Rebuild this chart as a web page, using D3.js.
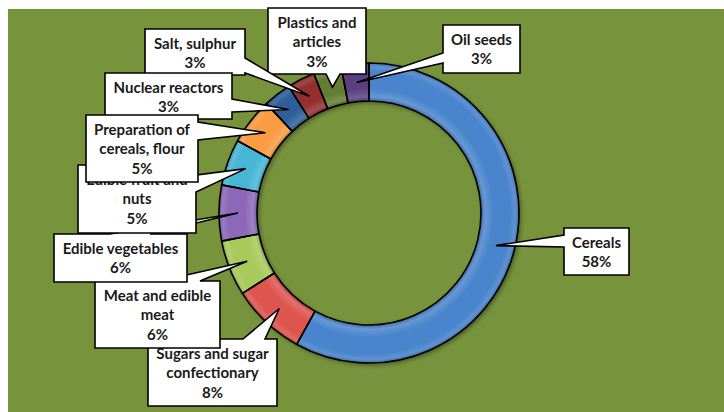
<!DOCTYPE html>
<html>
<head>
<meta charset="utf-8">
<script src="https://cdn.jsdelivr.net/npm/d3@7"></script>
<style>
  body { margin: 0; background: #fff; }
  text { font-family: Lato, "Open Sans", sans-serif; font-weight: bold; fill: #1a1a1a; }
</style>
</head>
<body>
<div id="chart"></div>
<script>
const width = 724, height = 412;

const categories = ["Cereals", "Sugars and sugar confectionary", "Meat and edible meat", "Edible vegetables",
  "Edible fruit and nuts", "Preparation of cereals, flour", "Nuclear reactors", "Salt, sulphur",
  "Plastics and articles", "Oil seeds"];
const shares = [58, 8, 6, 6, 5, 5, 3, 3, 3, 3];
const colors = ["#4a84cc", "#de5450", "#a8ca5c", "#8c69b8", "#47b6d6", "#f99b40",
  "#2f5f9a", "#952d2d", "#627e30", "#5a407f"];

// callout boxes: position, size, which side the pointer leaves from, words on first line
const boxes = [
  {x: 564, y: 228, w: 65, h: 47, side: "left", a: 7, b: 19, wrap: 9},
  {x: 148, y: 339, w: 129, h: 67, side: "top", a: 95, b: 117, wrap: 3},
  {x: 95, y: 281, w: 125, h: 67, side: "top", a: 65, b: 105, wrap: 3},
  {x: 54, y: 234, w: 133, h: 48, side: "top", a: 56, b: 96, wrap: 9},
  {x: 78, y: 165, w: 118, h: 68, side: "right", a: 10, b: 27, wrap: 3},
  {x: 86, y: 115, w: 112, h: 67, side: "right", a: 7, b: 25, wrap: 2},
  {x: 105, y: 73, w: 127, h: 46, side: "right", a: 26, b: 39, wrap: 9},
  {x: 145, y: 29, w: 100, h: 46, side: "right", a: 29, b: 44, wrap: 9},
  {x: 268, y: 8, w: 98, h: 66, side: "bottom", a: 58, b: 72, wrap: 2},
  {x: 443, y: 25, w: 77, h: 48, side: "left", a: 28, b: 38, wrap: 9}
];
const drawOrder = [8, 9, 0, 7, 6, 1, 2, 3, 4, 5];

const cx = 369, cy = 213, rInner = 112, rOuter = 150;

const svg = d3.select("#chart")
  .append("svg")
  .attr("width", width)
  .attr("height", height);

const defs = svg.append("defs");
// bevel shading across the ring, in the ring group's own coordinates
const bevel = defs.append("radialGradient")
  .attr("id", "bevel")
  .attr("gradientUnits", "userSpaceOnUse")
  .attr("cx", 0).attr("cy", 0).attr("r", rOuter);
[[rInner / rOuter, "#000", 0.22], [0.775, "#fff", 0.16], [0.83, "#fff", 0], [0.94, "#fff", 0],
 [0.975, "#fff", 0.12], [1, "#000", 0.2]].forEach(s => {
  bevel.append("stop").attr("offset", s[0]).attr("stop-color", s[1]).attr("stop-opacity", s[2]);
});
const shadow = defs.append("filter").attr("id", "shadow")
  .attr("x", "-20%").attr("y", "-20%").attr("width", "140%").attr("height", "140%");
shadow.append("feDropShadow").attr("dx", 2).attr("dy", 2).attr("stdDeviation", 2)
  .attr("flood-color", "#000").attr("flood-opacity", 0.4);

svg.append("rect")
  .attr("x", 8).attr("y", 9)
  .attr("width", 716).attr("height", 403)
  .attr("fill", "#77933c");

const pie = d3.pie().sort(null).value(d => d)(shares);
const arc = d3.arc().innerRadius(rInner).outerRadius(rOuter);

const ring = svg.append("g").attr("transform", `translate(${cx},${cy})`);

ring.append("g").attr("filter", "url(#shadow)")
  .selectAll("path")
  .data(pie)
  .join("path")
  .attr("d", arc)
  .attr("fill", (d, i) => colors[i]);

ring.append("g")
  .selectAll("path")
  .data(pie)
  .join("path")
  .attr("d", arc)
  .attr("fill", "url(#bevel)")
  .attr("stroke", "#000")
  .attr("stroke-width", 1.6)
  .attr("stroke-linejoin", "round");

function calloutPath(b, tip) {
  const x0 = b.x, y0 = b.y, x1 = b.x + b.w, y1 = b.y + b.h;
  const pts = [[x0, y0]];
  if (b.side === "top") pts.push([x0 + b.a, y0], tip, [x0 + b.b, y0]);
  pts.push([x1, y0]);
  if (b.side === "right") pts.push([x1, y0 + b.a], tip, [x1, y0 + b.b]);
  pts.push([x1, y1]);
  if (b.side === "bottom") pts.push([x0 + b.b, y1], tip, [x0 + b.a, y1]);
  pts.push([x0, y1]);
  if (b.side === "left") pts.push([x0, y0 + b.b], tip, [x0, y0 + b.a]);
  return "M" + pts.map(p => p.join(",")).join("L") + "Z";
}

const labels = svg.append("g");

drawOrder.forEach(i => {
  const b = boxes[i];
  const c = arc.centroid(pie[i]);
  const tip = [cx + c[0], cy + c[1]];
  const g = labels.append("g");
  g.append("path")
    .attr("d", calloutPath(b, tip))
    .attr("fill", "#fff")
    .attr("stroke", "#000")
    .attr("stroke-width", 1.6)
    .attr("stroke-linejoin", "miter");

  const words = categories[i].split(" ");
  const lines = [words.slice(0, b.wrap).join(" ")];
  if (words.length > b.wrap) lines.push(words.slice(b.wrap).join(" "));
  lines.push(shares[i] + "%");

  g.selectAll("text")
    .data(lines)
    .join("text")
    .attr("x", b.x + b.w / 2)
    .attr("y", (d, k) => b.y + 19.5 + k * 19.7)
    .attr("text-anchor", "middle")
    .attr("font-size", 15)
    .text(d => d);
});
</script>
</body>
</html>
